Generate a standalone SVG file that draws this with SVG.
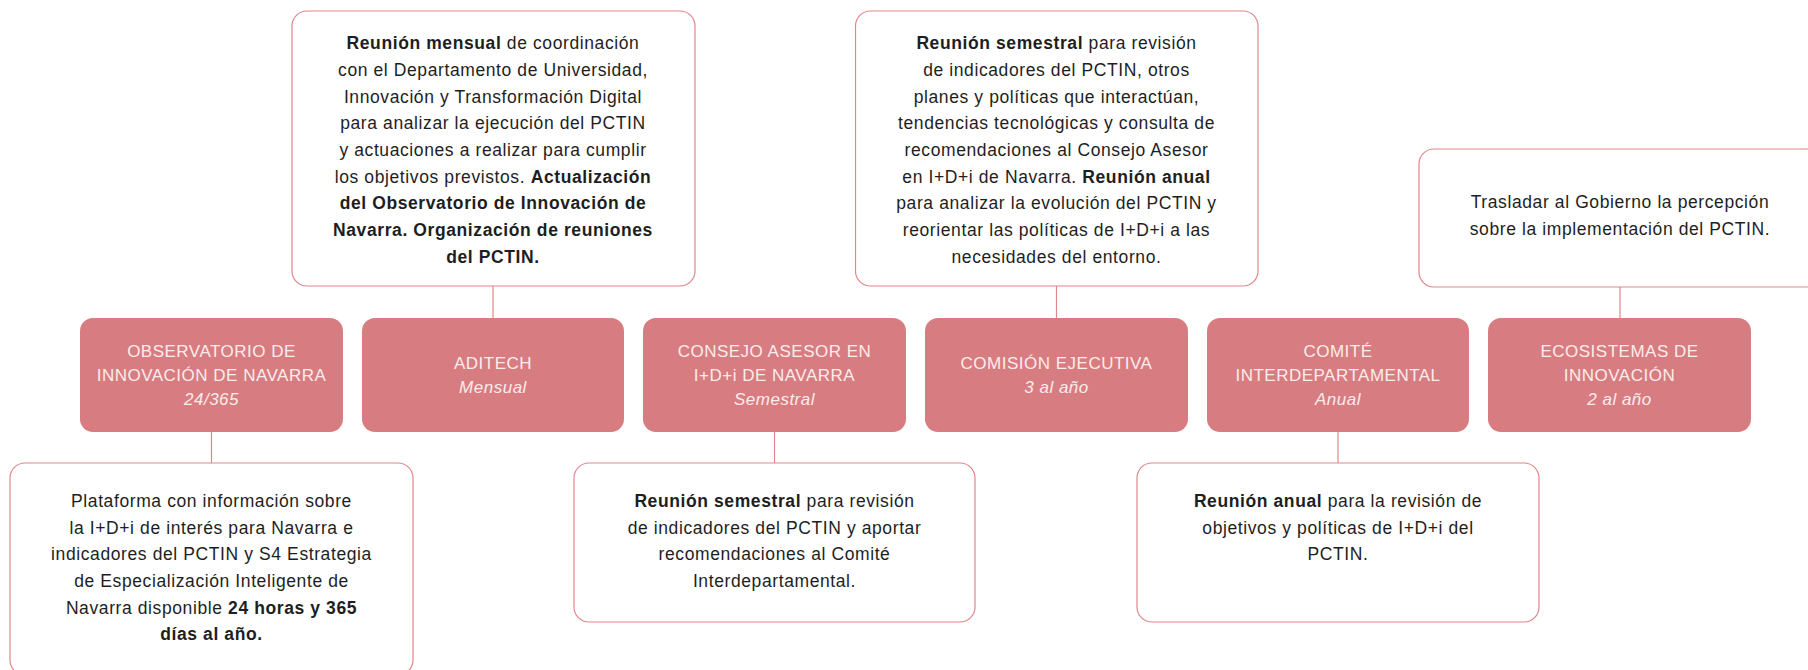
<svg xmlns="http://www.w3.org/2000/svg" width="1808" height="670" viewBox="0 0 1808 670">
<style>
.pink{fill:#d77c80;}
.card{fill:#ffffff;stroke:#e0878b;stroke-width:1.2;}
.conn{stroke:#e0878b;stroke-width:1.2;fill:none;}
.pt{font-family:"Liberation Sans",Arial,sans-serif;font-size:17px;letter-spacing:0.5px;fill:#fcecec;text-anchor:middle;}
.pt .it{font-style:italic;}
.ct{font-family:"Liberation Sans",Arial,sans-serif;font-size:17.5px;letter-spacing:0.6px;fill:#1e1e1e;text-anchor:middle;}
.b{font-weight:bold;}
</style>
<rect width="1808" height="670" fill="#ffffff"/>
<g id="connectors">
<line class="conn" x1="211.5" y1="432" x2="211.5" y2="463"/>
<line class="conn" x1="493" y1="286" x2="493" y2="318"/>
<line class="conn" x1="774.5" y1="432" x2="774.5" y2="463"/>
<line class="conn" x1="1056.5" y1="286" x2="1056.5" y2="318"/>
<line class="conn" x1="1338" y1="432" x2="1338" y2="463"/>
<line class="conn" x1="1620" y1="287" x2="1620" y2="318"/>
</g>
<g id="observatorio">
<rect class="pink" x="80" y="318" width="263" height="114" rx="13"/>
<text class="pt" x="211.5" y="357">OBSERVATORIO DE</text>
<text class="pt" x="211.5" y="381">INNOVACIÓN DE NAVARRA</text>
<text class="pt" x="211.5" y="405"><tspan class="it">24/365</tspan></text>
</g>
<g id="aditech">
<rect class="pink" x="362" y="318" width="262" height="114" rx="13"/>
<text class="pt" x="493" y="369">ADITECH</text>
<text class="pt" x="493" y="393"><tspan class="it">Mensual</tspan></text>
</g>
<g id="consejo">
<rect class="pink" x="643" y="318" width="263" height="114" rx="13"/>
<text class="pt" x="774.5" y="357">CONSEJO ASESOR EN</text>
<text class="pt" x="774.5" y="381">I+D+i DE NAVARRA</text>
<text class="pt" x="774.5" y="405"><tspan class="it">Semestral</tspan></text>
</g>
<g id="comision">
<rect class="pink" x="925" y="318" width="263" height="114" rx="13"/>
<text class="pt" x="1056.5" y="369">COMISIÓN EJECUTIVA</text>
<text class="pt" x="1056.5" y="393"><tspan class="it">3 al año</tspan></text>
</g>
<g id="comite">
<rect class="pink" x="1207" y="318" width="262" height="114" rx="13"/>
<text class="pt" x="1338" y="357">COMITÉ</text>
<text class="pt" x="1338" y="381">INTERDEPARTAMENTAL</text>
<text class="pt" x="1338" y="405"><tspan class="it">Anual</tspan></text>
</g>
<g id="ecosistemas">
<rect class="pink" x="1488" y="318" width="263" height="114" rx="13"/>
<text class="pt" x="1619.5" y="357">ECOSISTEMAS DE</text>
<text class="pt" x="1619.5" y="381">INNOVACIÓN</text>
<text class="pt" x="1619.5" y="405"><tspan class="it">2 al año</tspan></text>
</g>
<g id="nota-observatorio">
<rect class="card" x="10" y="463" width="403" height="212" rx="15"/>
<text class="ct" x="211.5" y="507">Plataforma con información sobre</text>
<text class="ct" x="211.5" y="533.7">la I+D+i de interés para Navarra e</text>
<text class="ct" x="211.5" y="560.3">indicadores del PCTIN y S4 Estrategia</text>
<text class="ct" x="211.5" y="587">de Especialización Inteligente de</text>
<text class="ct" x="211.5" y="613.7">Navarra disponible <tspan class="b">24 horas y 365</tspan></text>
<text class="ct" x="211.5" y="640.3"><tspan class="b">días al año.</tspan></text>
</g>
<g id="nota-aditech">
<rect class="card" x="292" y="11" width="403" height="275" rx="15"/>
<text class="ct" x="493" y="49.3"><tspan class="b">Reunión mensual</tspan> de coordinación</text>
<text class="ct" x="493" y="76">con el Departamento de Universidad,</text>
<text class="ct" x="493" y="102.7">Innovación y Transformación Digital</text>
<text class="ct" x="493" y="129.3">para analizar la ejecución del PCTIN</text>
<text class="ct" x="493" y="156">y actuaciones a realizar para cumplir</text>
<text class="ct" x="493" y="182.7">los objetivos previstos. <tspan class="b">Actualización</tspan></text>
<text class="ct" x="493" y="209.3"><tspan class="b">del Observatorio de Innovación de</tspan></text>
<text class="ct" x="493" y="236"><tspan class="b">Navarra. Organización de reuniones</tspan></text>
<text class="ct" x="493" y="262.7"><tspan class="b">del PCTIN.</tspan></text>
</g>
<g id="nota-consejo">
<rect class="card" x="574" y="463" width="401" height="159" rx="15"/>
<text class="ct" x="774.5" y="507"><tspan class="b">Reunión semestral</tspan> para revisión</text>
<text class="ct" x="774.5" y="533.7">de indicadores del PCTIN y aportar</text>
<text class="ct" x="774.5" y="560.3">recomendaciones al Comité</text>
<text class="ct" x="774.5" y="587">Interdepartamental.</text>
</g>
<g id="nota-comision">
<rect class="card" x="855.5" y="11" width="402.5" height="275" rx="15"/>
<text class="ct" x="1056.5" y="49.3"><tspan class="b">Reunión semestral</tspan> para revisión</text>
<text class="ct" x="1056.5" y="76">de indicadores del PCTIN, otros</text>
<text class="ct" x="1056.5" y="102.7">planes y políticas que interactúan,</text>
<text class="ct" x="1056.5" y="129.3">tendencias tecnológicas y consulta de</text>
<text class="ct" x="1056.5" y="156">recomendaciones al Consejo Asesor</text>
<text class="ct" x="1056.5" y="182.7">en I+D+i de Navarra. <tspan class="b">Reunión anual</tspan></text>
<text class="ct" x="1056.5" y="209.3">para analizar la evolución del PCTIN y</text>
<text class="ct" x="1056.5" y="236">reorientar las políticas de I+D+i a las</text>
<text class="ct" x="1056.5" y="262.7">necesidades del entorno.</text>
</g>
<g id="nota-comite">
<rect class="card" x="1137" y="463" width="402" height="159" rx="15"/>
<text class="ct" x="1338" y="507"><tspan class="b">Reunión anual</tspan> para la revisión de</text>
<text class="ct" x="1338" y="533.7">objetivos y políticas de I+D+i del</text>
<text class="ct" x="1338" y="560.3">PCTIN.</text>
</g>
<g id="nota-ecosistemas">
<rect class="card" x="1419" y="149" width="403" height="138" rx="15"/>
<text class="ct" x="1620" y="208">Trasladar al Gobierno la percepción</text>
<text class="ct" x="1620" y="235">sobre la implementación del PCTIN.</text>
</g>
</svg>
